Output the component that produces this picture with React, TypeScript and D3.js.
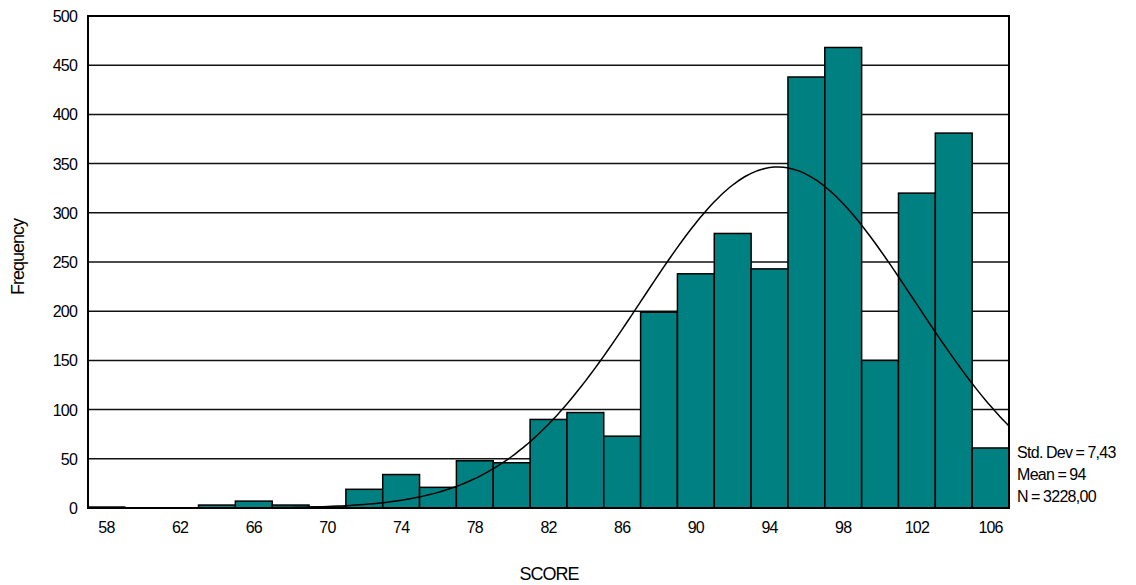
import React from "react";
import * as d3 from "d3";

// histogram bins (center of each 2-point bin) and counts
const binCenters = [58, 60, 62, 64, 66, 68, 70, 72, 74, 76, 78, 80, 82, 84, 86, 88, 90, 92, 94, 96, 98, 100, 102, 104, 106];
const counts = [1, 0, 0, 3, 7, 3, 1, 19, 34, 21, 48, 46, 90, 97, 73, 199, 238, 279, 243, 438, 468, 150, 320, 381, 61];
const xTicks = [58, 62, 66, 70, 74, 78, 82, 86, 90, 94, 98, 102, 106];
const yTicks = [0, 50, 100, 150, 200, 250, 300, 350, 400, 450, 500];
const statsLines = ["Std. Dev = 7,43", "Mean = 94", "N = 3228,00"];

// fitted normal curve parameters (mean shown rounded in the legend)
const fitMean = 94.45;
const fitSd = 7.43;
const fitN = 3228;
const binWidth = 2;

const W = 1136;
const H = 585;
const margin = { left: 88, right: 127, top: 16, bottom: 77 };

const font = "Arial, 'Liberation Sans', sans-serif";

const App: React.FC = () => {
  const x = d3
    .scaleLinear()
    .domain([57, 107])
    .range([margin.left, W - margin.right]);
  const y = d3
    .scaleLinear()
    .domain([0, 500])
    .range([H - margin.bottom, margin.top]);

  const curvePts = d3.range(57, 107.01, 0.25).map((v) => {
    const z = (v - fitMean) / fitSd;
    const val = ((fitN * binWidth) / (fitSd * Math.sqrt(2 * Math.PI))) * Math.exp(-0.5 * z * z);
    return [v, val] as [number, number];
  });
  const line = d3
    .line<[number, number]>()
    .x((d) => x(d[0]))
    .y((d) => y(d[1]))
    .curve(d3.curveBasis);

  const textStyle: React.CSSProperties = {
    fontFamily: font,
    fontSize: 16,
    letterSpacing: "-0.8px",
  };
  const statsStyle: React.CSSProperties = {
    fontFamily: font,
    fontSize: 16,
    letterSpacing: "-0.7px",
    wordSpacing: "-0.5px",
  };
  const titleStyle: React.CSSProperties = {
    fontFamily: font,
    fontSize: 18,
    letterSpacing: "-1px",
  };

  return (
    <svg
      width={W}
      height={H}
      style={{ position: "absolute", left: 0, top: 0, background: "#fff" }}
    >
      {/* gridlines */}
      {yTicks.map((t) => (
        <line
          key={"g" + t}
          x1={x(57)}
          x2={x(107)}
          y1={y(t)}
          y2={y(t)}
          stroke="#111"
          strokeWidth={1.5}
        />
      ))}
      {/* bars */}
      {binCenters.map((c, i) => (
        <rect
          key={"b" + c}
          x={x(c - 1)}
          width={x(c + 1) - x(c - 1)}
          y={y(counts[i])}
          height={y(0) - y(counts[i])}
          fill="#008080"
          stroke="#000"
          strokeWidth={1.5}
        />
      ))}
      {/* normal curve */}
      <path d={line(curvePts) || ""} fill="none" stroke="#000" strokeWidth={1.5} />
      {/* frame */}
      <rect
        x={x(57)}
        y={y(500)}
        width={x(107) - x(57)}
        height={y(0) - y(500)}
        fill="none"
        stroke="#000"
        strokeWidth={2}
      />
      {/* y tick labels */}
      {yTicks.map((t) => (
        <text key={"yl" + t} x={77} y={y(t) + 6} textAnchor="end" style={textStyle}>
          {t}
        </text>
      ))}
      {/* x tick labels */}
      {xTicks.map((t) => (
        <text key={"xl" + t} x={x(t)} y={533} textAnchor="middle" style={textStyle}>
          {t}
        </text>
      ))}
      {/* axis titles */}
      <text x={549} y={580} textAnchor="middle" style={titleStyle}>
        SCORE
      </text>
      <text
        transform={`translate(24, 257) rotate(-90)`}
        textAnchor="middle"
        style={titleStyle}
      >
        Frequency
      </text>
      {/* stats */}
      {statsLines.map((s, i) => (
        <text key={s} x={1017} y={458 + i * 22} style={statsStyle}>
          {s}
        </text>
      ))}
    </svg>
  );
};

export default App;
